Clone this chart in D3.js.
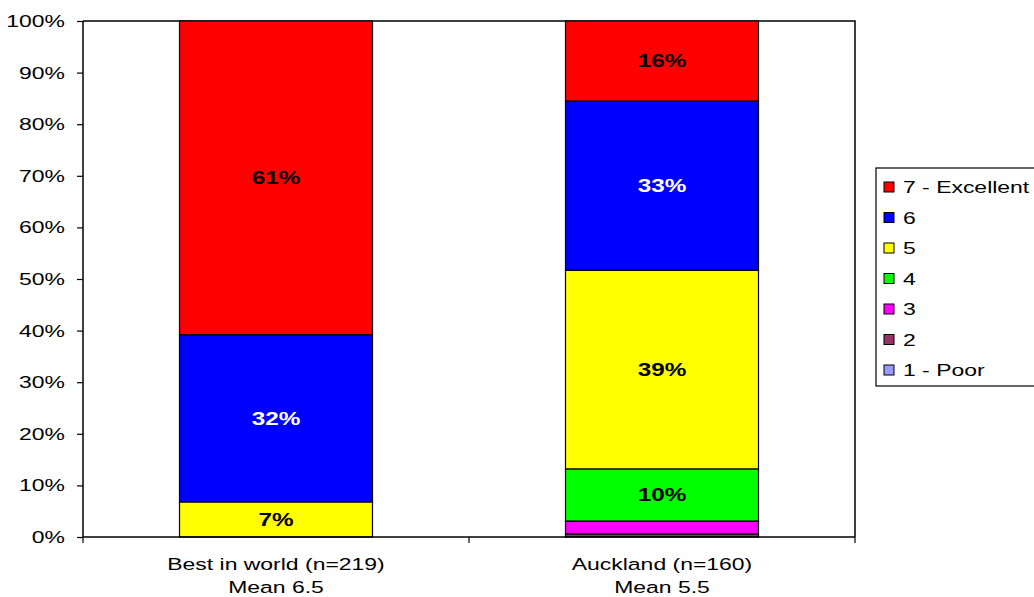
<!DOCTYPE html>
<html>
<head>
<meta charset="utf-8">
<script src="https://cdn.jsdelivr.net/npm/d3@7"></script>
<style>
  html, body { margin: 0; padding: 0; background: #fff; }
  svg { display: block; font-family: "Liberation Sans", Arial, sans-serif; }
</style>
</head>
<body>
<svg id="chart" width="1034" height="597"></svg>
<script>
// Rating categories, bottom of the stack first
const ratings = ["1 - Poor", "2", "3", "4", "5", "6", "7 - Excellent"];
const ratingColors = ["#9999ff", "#993366", "#ff00ff", "#00ff00", "#ffff00", "#0000ff", "#ff0000"];

// Groups along the x axis (two-line labels)
const groups = ["Best in world (n=219)", "Auckland (n=160)"];
const groupMeans = ["Mean 6.5", "Mean 5.5"];

// Share of responses per rating (percent), ordered as in `ratings`
const bestInWorld = [0, 0, 0, 0, 6.8, 32.4, 60.8];
const auckland = [0, 0.6, 2.5, 10.1, 38.5, 32.8, 15.5];
const seriesByGroup = [bestInWorld, auckland];

// Segments smaller than this are left unlabelled
const labelThreshold = 5;

const yTicks = [0, 10, 20, 30, 40, 50, 60, 70, 80, 90, 100];

// Text in this chart is set in a horizontally widened face
const textStretch = 1.35;

const svg = d3.select("#chart");
const margin = { left: 83, right: 179, top: 21, bottom: 60 };
const W = 1034, H = 597;
const plotW = W - margin.left - margin.right;
const plotH = H - margin.top - margin.bottom;

const g = svg.append("g").attr("transform", `translate(${margin.left},${margin.top})`);

const x = d3.scaleBand().domain(groups).range([0, plotW]).paddingInner(0.5).paddingOuter(0.25);
const y = d3.scaleLinear().domain([0, 100]).range([plotH, 0]);
const color = d3.scaleOrdinal().domain(ratings).range(ratingColors);

// Table rows for the stack: one row per group
const rows = groups.map((grp, i) => {
  const row = { group: grp };
  ratings.forEach((r, j) => { row[r] = seriesByGroup[i][j]; });
  return row;
});
const stacked = d3.stack().keys(ratings)(rows);

// Plot frame (top and right edges)
g.append("path")
  .attr("d", `M0,0H${plotW}V${plotH}`)
  .attr("fill", "none")
  .attr("stroke", "#000")
  .attr("stroke-width", 1.5);

// Stacked bars
const layers = g.selectAll("g.layer").data(stacked).join("g")
  .attr("class", "layer")
  .attr("fill", d => color(d.key));

layers.selectAll("rect").data(d => d.filter(s => s[1] - s[0] > 0)).join("rect")
  .attr("x", d => x(d.data.group))
  .attr("width", x.bandwidth())
  .attr("y", d => y(d[1]))
  .attr("height", d => y(d[0]) - y(d[1]))
  .attr("stroke", "#000")
  .attr("stroke-width", 1.2);

// Value labels inside larger segments
stacked.forEach(layer => {
  layer.forEach(s => {
    const v = s[1] - s[0];
    if (v < labelThreshold) return;
    g.append("text")
      .attr("x", x(s.data.group) + x.bandwidth() / 2)
      .attr("y", y((s[0] + s[1]) / 2))
      .attr("dy", "0.36em")
      .attr("text-anchor", "middle")
      .attr("font-size", 18)
      .attr("font-weight", "bold")
      .attr("fill", layer.key === "6" ? "#fff" : "#000")
      .text(Math.round(v) + "%");
  });
});

// Y axis
const yAxis = g.append("g")
  .call(d3.axisLeft(y).tickValues(yTicks).tickFormat(d => d + "%").tickSize(6).tickPadding(12));
yAxis.select(".domain").attr("stroke", "#000").attr("stroke-width", 1.5).attr("d", `M0,0V${plotH}`);
yAxis.selectAll(".tick line").attr("stroke", "#000").attr("stroke-width", 1.2);
yAxis.selectAll(".tick text").attr("font-size", 17).attr("fill", "#000")
  .attr("font-family", "Liberation Sans, Arial, sans-serif");

// X axis with boundary ticks between categories
const xAxisG = g.append("g").attr("transform", `translate(0,${plotH})`);
xAxisG.append("line").attr("x1", 0).attr("x2", plotW).attr("stroke", "#000").attr("stroke-width", 1.5);
const bounds = d3.range(groups.length + 1).map(i => i * plotW / groups.length);
xAxisG.selectAll("line.tick").data(bounds).join("line")
  .attr("class", "tick")
  .attr("x1", d => d).attr("x2", d => d)
  .attr("y1", 0).attr("y2", 6)
  .attr("stroke", "#000").attr("stroke-width", 1.2);

const xLabels = xAxisG.selectAll("text.cat").data(groups).join("text")
  .attr("class", "cat")
  .attr("x", d => x(d) + x.bandwidth() / 2)
  .attr("text-anchor", "middle")
  .attr("font-size", 17)
  .attr("fill", "#000");
xLabels.append("tspan").attr("x", d => x(d) + x.bandwidth() / 2).attr("y", 33).text(d => d);
xLabels.append("tspan").attr("x", d => x(d) + x.bandwidth() / 2).attr("y", 56).text((d, i) => groupMeans[i]);

// Legend, top rating first
const legend = svg.append("g").attr("transform", "translate(876,168)");
legend.append("rect")
  .attr("x", 0).attr("y", 0).attr("width", 170).attr("height", 218)
  .attr("fill", "#fff").attr("stroke", "#000").attr("stroke-width", 1.2);
const legendItems = ratings.slice().reverse();
const li = legend.selectAll("g.item").data(legendItems).join("g")
  .attr("class", "item")
  .attr("transform", (d, i) => `translate(0,${19 + i * 30.5})`);
li.append("rect")
  .attr("x", 8).attr("y", -5).attr("width", 10).attr("height", 10)
  .attr("fill", d => color(d)).attr("stroke", "#000").attr("stroke-width", 1);
li.append("text")
  .attr("x", 27).attr("y", 0).attr("dy", "0.36em")
  .attr("font-size", 17).attr("fill", "#000")
  .text(d => d);

// Widen every text around its own anchor point
svg.selectAll("text").each(function () {
  const ax = +this.getAttribute("x") || 0;
  d3.select(this).attr("transform",
    `translate(${ax},0) scale(${textStretch},1) translate(${-ax},0)`);
});
</script>
</body>
</html>
